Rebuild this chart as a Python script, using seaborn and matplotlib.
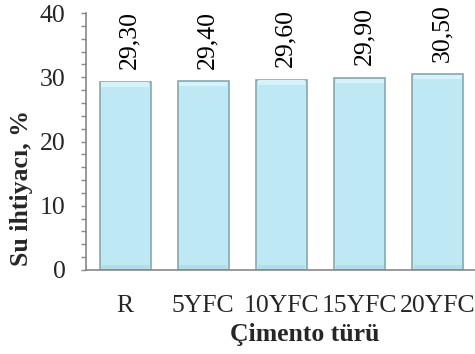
import matplotlib
matplotlib.use("Agg")
import matplotlib.pyplot as plt
from matplotlib.ticker import MultipleLocator
import seaborn as sns
import pandas as pd

# Water demand of cement types
categories = ["R", "5YFC", "10YFC", "15YFC", "20YFC"]
values = [29.30, 29.40, 29.60, 29.90, 30.50]
value_labels = ["29,30", "29,40", "29,60", "29,90", "30,50"]

df = pd.DataFrame({"cimento": categories, "su": values})

sns.set_theme(style="white")
plt.rcParams["font.family"] = ["Liberation Serif", "DejaVu Serif"]

FS = 18.5

fig = plt.figure(figsize=(4.75, 3.54), dpi=100)
ax = fig.add_axes([86 / 475, 84 / 354, 391 / 475, 257 / 354])

sns.barplot(data=df, x="cimento", y="su", ax=ax, color="#BEE8F3",
            width=0.65, edgecolor="#86A9B2", linewidth=1.2, saturation=1)

# soft bevel on top and bottom of each bar
for p in ax.patches:
    x0, w, h = p.get_x(), p.get_width(), p.get_height()
    ax.add_patch(plt.Rectangle((x0 + 0.02, h - 0.8), w - 0.04, 0.7,
                               facecolor="#D8F2F9", edgecolor="none", zorder=3))
    ax.add_patch(plt.Rectangle((x0 + 0.02, 0.1), w - 0.04, 0.7,
                               facecolor="#B3DEE8", edgecolor="none", zorder=3))

for i, (v, lab) in enumerate(zip(values, value_labels)):
    ax.annotate(lab, (i, v), xytext=(3, 9), textcoords="offset points",
                rotation=90, ha="center", va="bottom", fontsize=FS,
                color="black")

ax.set_xlim(-0.5, 4.5)
ax.set_ylim(0, 40)
ax.yaxis.set_major_locator(MultipleLocator(10))
ax.yaxis.set_minor_locator(MultipleLocator(2))
ax.tick_params(axis="y", which="both", left=True, direction="out",
               length=3.6, width=1, color="#888888", labelsize=FS, pad=11)
ax.tick_params(axis="x", bottom=False, labelsize=FS, pad=12)

for side in ["top", "right"]:
    ax.spines[side].set_visible(False)
for side in ["left", "bottom"]:
    ax.spines[side].set_color("#888888")
    ax.spines[side].set_linewidth(1.2)

ax.set_xlabel("Çimento türü", fontsize=FS, fontweight="bold")
ax.set_ylabel("Su ihtiyacı, %", fontsize=FS, fontweight="bold")
ax.xaxis.label.set_va("center")
ax.yaxis.label.set_va("center")
ax.xaxis.set_label_coords((305 - 86) / 391, -(334 - 270) / 257)
ax.yaxis.set_label_coords(-(86 - 22) / 391, (270 - 188) / 257)

fig.savefig("out.png", dpi=100)
